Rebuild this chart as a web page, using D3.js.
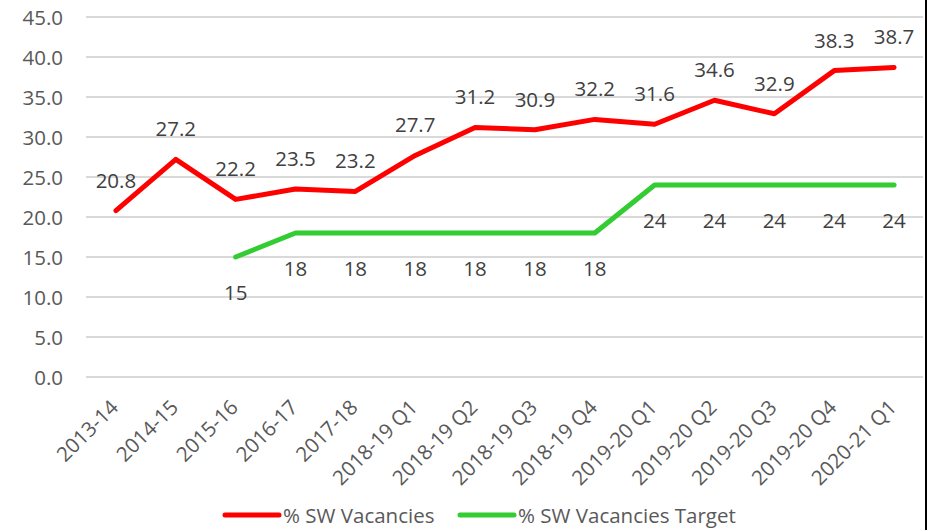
<!DOCTYPE html>
<html>
<head>
<meta charset="utf-8">
<script src="https://cdnjs.cloudflare.com/ajax/libs/d3/7.8.5/d3.min.js"></script>
<style>
  html, body { margin: 0; padding: 0; background: #fff; }
  svg { display: block; }
  text { font-family: "Open Sans", "Liberation Sans", sans-serif; }
</style>
</head>
<body>
<svg id="chart" width="933" height="530"></svg>
<script>
const categories = ["2013-14","2014-15","2015-16","2016-17","2017-18","2018-19 Q1","2018-19 Q2","2018-19 Q3","2018-19 Q4","2019-20 Q1","2019-20 Q2","2019-20 Q3","2019-20 Q4","2020-21 Q1"];
const vacancies = [20.8,27.2,22.2,23.5,23.2,27.7,31.2,30.9,32.2,31.6,34.6,32.9,38.3,38.7];
const target = [null,null,15,18,18,18,18,18,18,24,24,24,24,24];
const yTicks = [0,5,10,15,20,25,30,35,40,45];
const seriesNames = ["% SW Vacancies","% SW Vacancies Target"];
const colors = ["#ff0000","#33cc33"];

const svg = d3.select("#chart");
const W = 933, H = 530;
const plot = {left: 86, right: 924, top: 17, bottom: 377};
const FS = 20.5;

const x = d3.scalePoint().domain(categories).range([plot.left, plot.right]).padding(0.5);
const y = d3.scaleLinear().domain([0,45]).range([plot.bottom, plot.top]);

// gridlines
svg.append("g").selectAll("line").data(yTicks).join("line")
  .attr("x1", plot.left).attr("x2", 923)
  .attr("y1", d => y(d)).attr("y2", d => y(d))
  .attr("stroke", "#d9d9d9").attr("stroke-width", 2);

// y axis labels
svg.append("g").selectAll("text").data(yTicks).join("text")
  .attr("x", 63).attr("y", d => y(d))
  .attr("text-anchor", "end").attr("dominant-baseline", "central")
  .attr("font-size", FS).attr("fill", "#595959")
  .text(d => d.toFixed(1));

// x axis labels
svg.append("g").selectAll("text").data(categories).join("text")
  .attr("transform", d => `translate(${x(d) - 2},${403}) rotate(-45)`)
  .attr("text-anchor", "end").attr("dominant-baseline", "central")
  .attr("font-size", FS).attr("fill", "#595959")
  .text(d => d);

// lines
const lineGen = d3.line()
  .defined(d => d.v != null)
  .x(d => x(d.c)).y(d => y(d.v));

const redData = categories.map((c,i) => ({c, v: vacancies[i]}));
const greenData = categories.map((c,i) => ({c, v: target[i]}));

svg.append("path").datum(greenData).attr("d", lineGen)
  .attr("fill","none").attr("stroke", colors[1]).attr("stroke-width", 5)
  .attr("stroke-linecap","round").attr("stroke-linejoin","round");
svg.append("path").datum(redData).attr("d", lineGen)
  .attr("fill","none").attr("stroke", colors[0]).attr("stroke-width", 5)
  .attr("stroke-linecap","round").attr("stroke-linejoin","round");

// data labels
svg.append("g").selectAll("text").data(redData).join("text")
  .attr("x", d => x(d.c)).attr("y", d => y(d.v) - 31)
  .attr("text-anchor","middle").attr("dominant-baseline","central")
  .attr("font-size", FS).attr("fill", "#404040")
  .text(d => d.v.toFixed(1));
svg.append("g").selectAll("text").data(greenData.filter(d => d.v != null)).join("text")
  .attr("x", d => x(d.c)).attr("y", d => y(d.v) + 35)
  .attr("text-anchor","middle").attr("dominant-baseline","central")
  .attr("font-size", FS).attr("fill", "#404040")
  .text(d => d.v);

// legend
const legendItems = [
  {name: seriesNames[0], color: colors[0], x0: 225},
  {name: seriesNames[1], color: colors[1], x0: 460}
];
const lg = svg.append("g");
legendItems.forEach(it => {
  lg.append("line").attr("x1", it.x0).attr("x2", it.x0 + 54)
    .attr("y1", 515).attr("y2", 515)
    .attr("stroke", it.color).attr("stroke-width", 5).attr("stroke-linecap","round");
  lg.append("text").attr("x", it.x0 + 58).attr("y", 515)
    .attr("dominant-baseline","central").attr("font-size", FS).attr("fill", "#595959")
    .text(it.name);
});

// right border
svg.append("line").attr("x1", 926).attr("x2", 926).attr("y1", 0).attr("y2", H)
  .attr("stroke", "#000").attr("stroke-width", 2);
</script>
</body>
</html>
